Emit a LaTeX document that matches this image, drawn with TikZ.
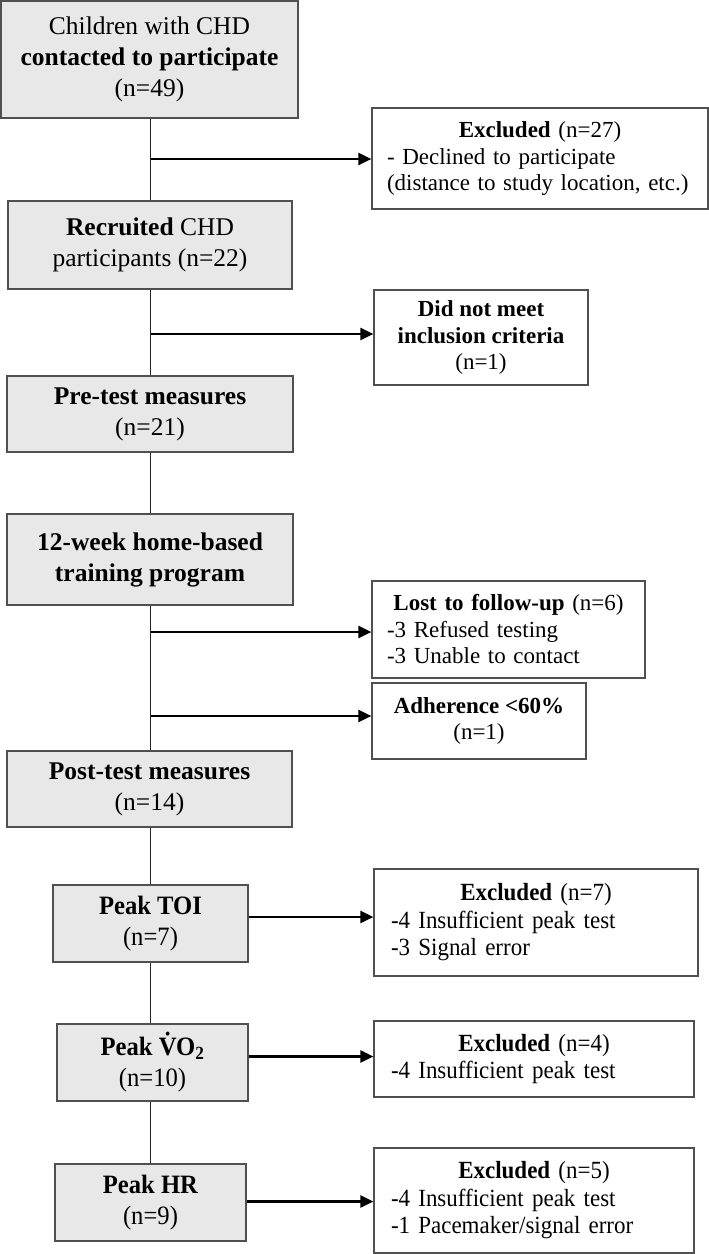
\documentclass[tikz,border=0pt]{standalone}
\usepackage{fontspec}
\setmainfont{Liberation Serif}
\newfontfamily\condfont{Liberation Serif}[FakeStretch=0.93]
\usetikzlibrary{arrows.meta}
\definecolor{boxgray}{HTML}{E8E8E8}
\definecolor{edgegray}{HTML}{505050}
\newcommand{\hdline}[1]{\makebox[\hsize][c]{#1}\\}
\begin{document}
\begin{tikzpicture}[x=1pt,y=-1pt,
  gbox/.style={draw=edgegray, line width=1.2pt, fill=boxgray, align=center, inner sep=0pt},
  wbox/.style={draw=edgegray, line width=1.2pt, fill=white, inner sep=0pt},
  trunk/.style={draw=black!85, line width=1pt},
  arr/.style={draw=black, line width=2.3pt, -{Triangle[length=13pt,width=12pt]}},
  upfont/.style={font=\fontsize{25.5}{31}\selectfont},
  rfont/.style={font=\fontsize{23}{26.5}\selectfont},
  lofont/.style={font=\condfont\fontsize{26.5}{31}\selectfont},
  lrfont/.style={font=\condfont\fontsize{24.7}{27.5}\selectfont}]
\useasboundingbox (0,0) rectangle (709,1254);

% left (gray) boxes
\node[gbox, upfont, minimum width=297pt, minimum height=117pt] (c1) at (149.5,59.5)
  {Children with CHD\\\textbf{contacted to participate}\\(n=49)};
\node[gbox, upfont, minimum width=284pt, minimum height=88pt] (c2) at (150,245)
  {\textbf{Recruited} CHD\\participants (n=22)};
\node[gbox, upfont, minimum width=286pt, minimum height=76pt] (c3) at (150,414)
  {\textbf{Pre-test measures}\\(n=21)};
\node[gbox, upfont, minimum width=286pt, minimum height=91pt] (c4) at (150,559.5)
  {\textbf{12-week home-based}\\\textbf{training program}};
\node[gbox, upfont, minimum width=285pt, minimum height=76pt] (c5) at (149.5,789)
  {\textbf{Post-test measures}\\(n=14)};
\node[gbox, lofont, minimum width=195pt, minimum height=77pt] (c6) at (150.5,923.5)
  {\textbf{Peak TOI}\\(n=7)};
\node[gbox, lofont, minimum width=191pt, minimum height=77pt] (c7) at (152.5,1062.5)
  {\textbf{Peak \accent"02D9 VO\textsubscript{2}}\\(n=10)};
\node[gbox, lofont, minimum width=191pt, minimum height=77pt] (c8) at (150.5,1202.5)
  {\textbf{Peak HR}\\(n=9)};

% right (white) boxes
\node[wbox, rfont, minimum width=336pt, minimum height=101pt, text width=306pt, align=left] (e1) at (540,158.5)
  {\hdline{\textbf{Excluded} (n=27)}- Declined to participate\\(distance to study location, etc.)};
\node[wbox, rfont, minimum width=214pt, minimum height=95pt, align=center] (e2) at (481,337.5)
  {\textbf{Did not meet}\\\textbf{inclusion criteria}\\(n=1)};
\node[wbox, rfont, minimum width=273pt, minimum height=97pt, text width=243pt, align=left] (e3) at (508.5,629.5)
  {\hdline{\textbf{Lost to follow-up} (n=6)}-3 Refused testing\\-3 Unable to contact};
\node[wbox, rfont, minimum width=214pt, minimum height=76pt, align=center] (e4) at (479,721)
  {\textbf{Adherence <60\%}\\(n=1)};
\node[wbox, lrfont, minimum width=324pt, minimum height=107pt, text width=290pt, align=left] (e5) at (536,922.5)
  {\hdline{\textbf{Excluded} (n=7)}-4 Insufficient peak test\\-3 Signal error};
\node[wbox, lrfont, minimum width=320pt, minimum height=76pt, text width=286pt, align=left] (e6) at (534,1059)
  {\hdline{\textbf{Excluded} (n=4)}-4 Insufficient peak test};
\node[wbox, lrfont, minimum width=320pt, minimum height=105pt, text width=286pt, align=left] (e7) at (534,1200.5)
  {\hdline{\textbf{Excluded} (n=5)}-4 Insufficient peak test\\-1 Pacemaker/signal error};

% trunk
\coordinate (tx) at (150.5,0);
\draw[trunk] (c1.south -| tx) -- (c2.north -| tx);
\draw[trunk] (c2.south -| tx) -- (c3.north -| tx);
\draw[trunk] (c3.south -| tx) -- (c4.north -| tx);
\draw[trunk] (c4.south -| tx) -- (c5.north -| tx);
\draw[trunk] (c5.south -| tx) -- (c6.north -| tx);
\draw[trunk] (c6.south -| tx) -- (c7.north -| tx);
\draw[trunk] (c7.south -| tx) -- (c8.north -| tx);

% arrows from trunk
\coordinate (j1) at (150.5,159);
\coordinate (j2) at (150.5,334);
\coordinate (j3) at (150.5,632);
\coordinate (j4) at (150.5,716);
\draw[arr] (j1) -- (j1 -| e1.west);
\draw[arr] (j2) -- (j2 -| e2.west);
\draw[arr] (j3) -- (j3 -| e3.west);
\draw[arr] (j4) -- (j4 -| e4.west);

% arrows from lower boxes
\coordinate (a6) at ([yshift=6.5pt]c6.east);
\coordinate (a7) at ([yshift=6pt]c7.east);
\coordinate (a8) at ([yshift=1pt]c8.east);
\draw[arr] (a6) -- (a6 -| e5.west);
\draw[arr] (a7) -- (a7 -| e6.west);
\draw[arr] (a8) -- (a8 -| e7.west);
\end{tikzpicture}
\end{document}
